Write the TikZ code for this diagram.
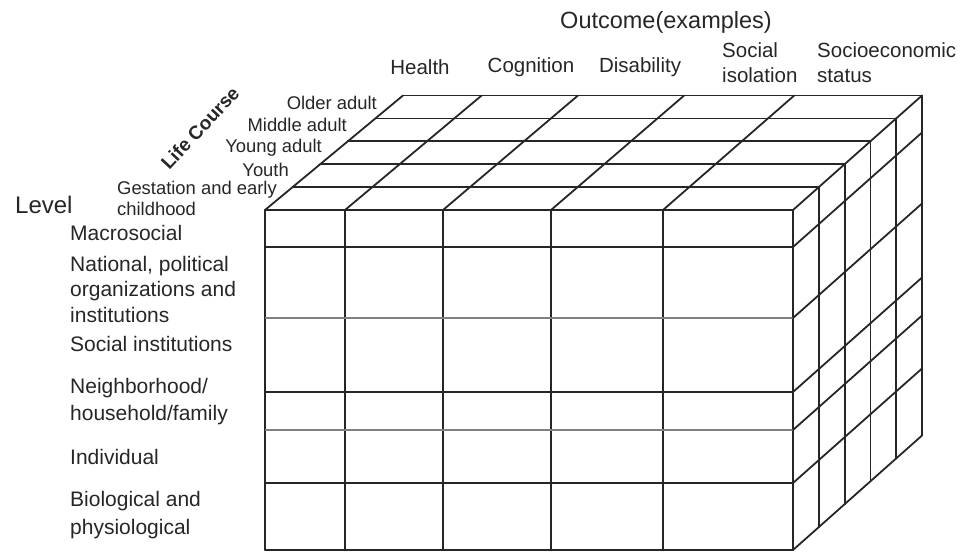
\documentclass[tikz,border=0pt]{standalone}
\usepackage{fontspec}
\setmainfont{Liberation Sans}
\begin{document}
\begin{tikzpicture}[x=1pt,y=-1pt,
  grid/.style={draw=black!85,line width=1.8pt,line cap=round,line join=round},
  faint/.style={draw=black!50,line width=1.4pt},
  lbl/.style={text=black!85,inner sep=0pt,font=\fontsize{21}{26}\selectfont,align=left},
  life/.style={text=black!85,inner sep=0pt,font=\fontsize{18.4}{21}\selectfont,align=left},
  outc/.style={text=black!85,inner sep=0pt,font=\fontsize{20.5}{25}\selectfont,align=left}]
\useasboundingbox (0,0) rectangle (965,552);
% ---- front face
\foreach \x in {265,345,443,551,663,793} \draw[grid] (\x,210) -- (\x,550);
\foreach \y in {210,247,392,483,550} \draw[grid] (265,\y) -- (793,\y);
\foreach \y in {318,430} \draw[faint] (265,\y) -- (793,\y);
% ---- top face
\foreach \d in {1,...,5} {
  \draw[grid] ({265+\d*27.6},{210-\d*22.9}) -- ({793+\d*25.8},{210-\d*22.9});
}
\foreach \x in {265,345,443,551,663,793} {
  \pgfmathsetmacro{\off}{138-9*(\x-265)/528}
  \draw[grid] (\x,210) -- ++(\off,-114.5);
}
% ---- right face
\foreach \d in {1,...,5} {
  \draw[grid] ({793+\d*25.8},{210-\d*22.9}) -- ({793+\d*25.8},{550-\d*22.9});
}
\foreach \y in {247,318,392,430,483,550} \draw[grid] (793,\y) -- ++(129,-114.5);
% ---- outcome labels
\node[outc,font=\fontsize{23.5}{28}\selectfont] (outcome) at (666,22) {Outcome(examples)};
\node[outc] (health) at (420,67) {Health};
\node[outc] (cognition) at (531,67) {Cognition};
\node[outc] (disability) at (640,67) {Disability};
\node[outc,anchor=west] (social) at (722,62.5) {Social\\isolation};
\node[outc,anchor=west] (ses) at (817,62.5) {Socioeconomic\\status};
% ---- life course labels
\node[life,font=\bfseries\fontsize{19}{22}\selectfont,rotate=47] (lifecourse) at (200,128) {Life Course};
\node[life,anchor=east] (older) at (377,103) {Older adult};
\node[life,anchor=east] (middle) at (347,125) {Middle adult};
\node[life,anchor=east] (young) at (322,148) {Young adult};
\node[life,anchor=east] (youth) at (289,170) {Youth};
\node[life,anchor=west] (gestation) at (117,198) {Gestation and early\\childhood};
% ---- level labels
\node[lbl,font=\fontsize{24}{28}\selectfont,anchor=west] (level) at (15,205) {Level};
\node[lbl,anchor=west] (macro) at (70,233) {Macrosocial};
\node[lbl,anchor=west,font=\fontsize{21}{25.5}\selectfont] (national) at (70,289) {National, political\\organizations and\\institutions};
\node[lbl,anchor=west] (socinst) at (70,344) {Social institutions};
\node[lbl,anchor=west,font=\fontsize{21}{27}\selectfont] (neigh) at (70,402) {Neighborhood/\\household/family};
\node[lbl,anchor=west] (indiv) at (70,457) {Individual};
\node[lbl,anchor=west,font=\fontsize{21}{28}\selectfont] (bio) at (70,515) {Biological and\\physiological};
\end{tikzpicture}
\end{document}
